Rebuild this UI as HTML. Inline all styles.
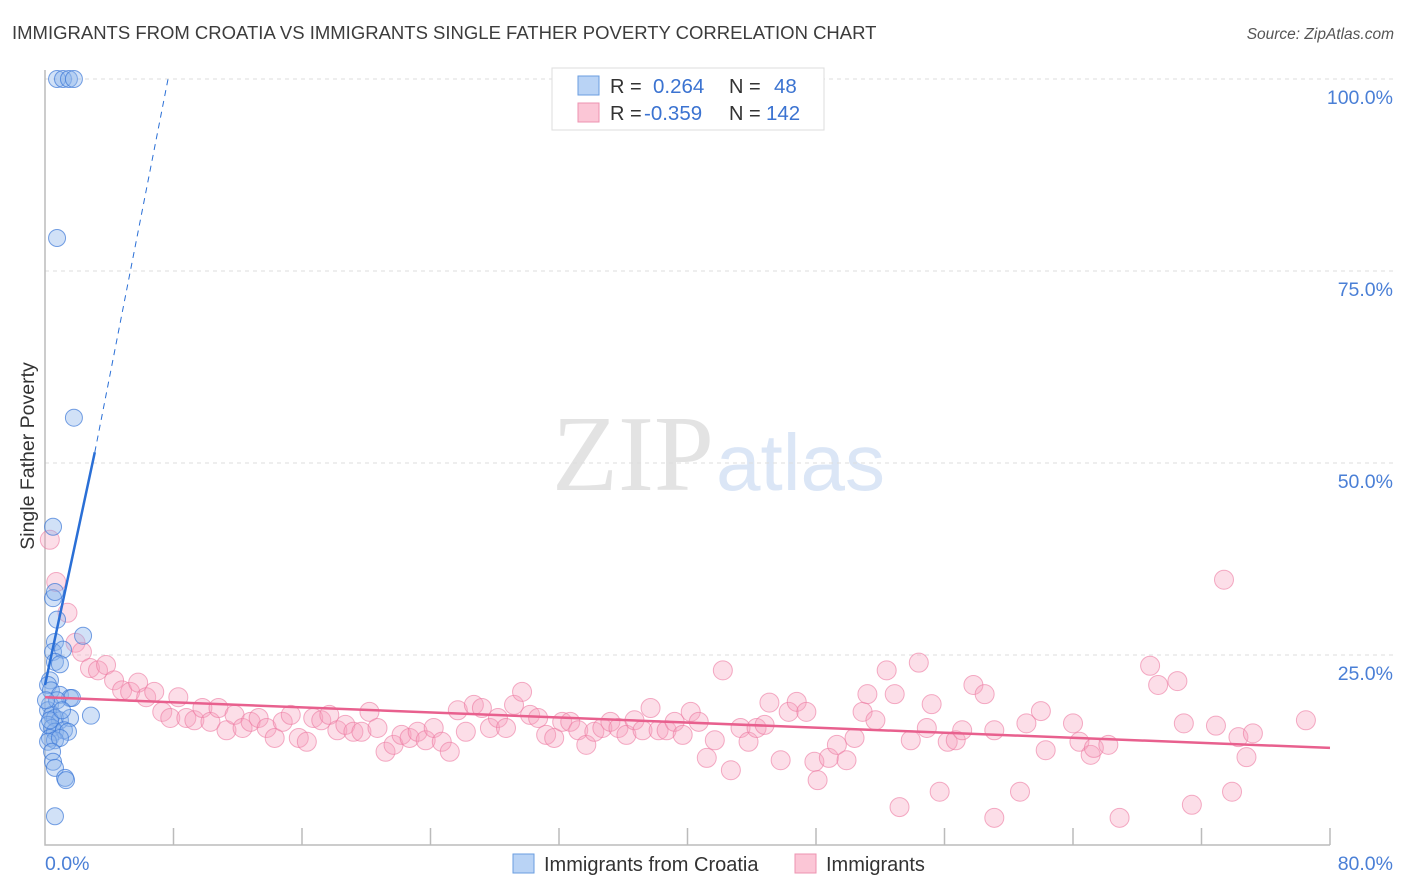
<!DOCTYPE html>
<html><head><meta charset="utf-8"><style>
body{margin:0;background:#fff;font-family:"Liberation Sans",sans-serif;}
svg{display:block}
</style></head><body>
<svg id="chart" width="1406" height="892" viewBox="0 0 1406 892" xmlns="http://www.w3.org/2000/svg">
<text x="12" y="39" font-size="18.5" fill="#3c3c3c" font-family="Liberation Sans, sans-serif">IMMIGRANTS FROM CROATIA VS IMMIGRANTS SINGLE FATHER POVERTY CORRELATION CHART</text>
<text x="1394" y="39" font-size="15.5" fill="#555" font-style="italic" text-anchor="end" font-family="Liberation Sans, sans-serif">Source: ZipAtlas.com</text>
<g>
<text x="552" y="490" font-size="108" fill="#e3e3e3" font-family="Liberation Serif, serif">ZIP</text>
<text x="716" y="490" font-size="80" fill="#dbe6f6" font-family="Liberation Sans, sans-serif">atlas</text>
</g>
<g id="grid"></g>
<g id="axes"></g>
<g id="pink"></g>
<g id="blue"></g>
<g id="lines"></g>
<text transform="translate(34,456) rotate(-90)" font-size="19.5" fill="#333" text-anchor="middle" font-family="Liberation Sans, sans-serif">Single Father Poverty</text>
<g>
<rect x="552" y="68" width="272" height="62" fill="#fff" stroke="#ddd"/>
<rect x="578" y="76" width="21" height="19" fill="#b9d3f5" stroke="#6a9ee0"/>
<rect x="578" y="103" width="21" height="19" fill="#fbc6d6" stroke="#ee93b0"/>
<text x="610" y="93" font-size="20" fill="#333">R =</text>
<text x="653" y="93" font-size="20.5" fill="#3b73d1">0.264</text>
<text x="729" y="93" font-size="20" fill="#333">N =</text>
<text x="774" y="93" font-size="20.5" fill="#3b73d1">48</text>
<text x="610" y="120" font-size="20" fill="#333">R =</text>
<text x="644" y="120" font-size="20.5" fill="#3b73d1">-0.359</text>
<text x="729" y="120" font-size="20" fill="#333">N =</text>
<text x="766" y="120" font-size="20.5" fill="#3b73d1">142</text>
</g>
<g>
<rect x="513" y="854" width="21" height="19" fill="#b9d3f5" stroke="#6a9ee0"/>
<text x="544" y="871" font-size="20" fill="#333">Immigrants from Croatia</text>
<rect x="795" y="854" width="21" height="19" fill="#fbc6d6" stroke="#ee93b0"/>
<text x="826" y="871" font-size="20" fill="#333">Immigrants</text>
</g>
</svg>
<script>
const yTicks=[25,50,75,100];
const yTickLabels=["25.0%","50.0%","75.0%","100.0%"];
const xTickLabels=["0.0%","80.0%"];
const blueX=[0.75,1.12,1.49,1.8,0.75,1.8,0.5,0.5,0.62,0.75,2.37,0.62,0.5,1.12,0.62,0.93,0.31,0.19,0.37,0.93,1.56,1.68,0.31,0.19,0.44,0.62,0.93,1.56,2.86,0.19,0.44,0.62,1.18,1.43,0.31,0.62,0.19,0.93,0.44,0.5,0.62,1.25,1.31,0.62,0.31,0.75,0.06,1.06];
const blueY=[100,100,100,100,79.3,55.9,41.7,32.4,33.2,29.6,27.5,26.7,25.4,25.7,24.1,23.8,21.7,21.1,20.4,19.8,19.4,19.4,18.5,17.8,17.2,16.8,16.5,16.8,17.1,15.9,15.5,15.0,15.2,15.0,14.2,13.9,13.7,14.2,12.4,11.1,10.3,9.0,8.7,4.0,16.5,19.1,19.1,17.8];
const pinkX=[0.3,0.7,1.4,1.9,2.3,2.8,3.3,3.8,4.3,4.8,5.3,5.8,6.3,6.8,7.3,7.8,8.3,8.8,9.3,9.8,10.3,10.8,11.3,11.8,12.3,12.8,13.3,13.8,14.3,14.8,15.3,15.8,16.3,16.7,17.2,17.7,18.2,18.7,19.2,19.7,20.2,20.7,21.2,21.7,22.2,22.7,23.2,23.7,24.2,24.7,25.2,25.7,26.2,26.7,27.2,27.7,28.2,28.7,29.2,29.7,30.2,30.7,31.2,31.7,32.2,32.7,33.2,33.7,34.2,34.7,35.2,35.7,36.2,36.7,37.2,37.7,38.2,38.7,39.2,39.7,40.2,40.7,41.2,41.7,42.2,42.7,43.3,43.8,44.3,44.8,45.1,45.8,46.3,46.8,47.4,47.9,48.1,48.8,49.3,49.9,50.4,50.9,51.2,51.7,52.4,52.9,53.2,53.9,54.4,54.9,55.2,55.7,56.2,56.7,57.1,57.8,58.5,59.1,59.1,60.7,61.1,62.0,62.3,64.0,64.4,65.1,65.3,66.2,66.9,68.8,69.3,70.5,70.9,71.4,72.9,73.4,73.9,74.3,74.8,75.2,78.5];
const pinkY=[40.0,34.5,30.5,26.6,25.4,23.3,23.0,23.7,21.7,20.4,20.2,21.4,19.5,20.2,17.6,16.8,19.5,16.8,16.5,18.1,16.3,18.1,15.2,17.2,15.5,16.3,16.8,15.5,14.2,16.3,17.2,14.2,13.7,16.8,16.5,17.2,15.2,15.9,15.0,15.0,17.6,15.5,12.4,13.3,14.6,14.2,15.0,13.9,15.5,13.7,12.4,17.8,15.0,18.5,18.1,15.5,16.8,15.5,18.5,20.2,17.2,16.8,14.6,14.2,16.3,16.3,15.2,13.3,15.0,15.5,16.3,15.5,14.6,16.5,15.2,18.1,15.2,15.2,16.3,14.6,17.6,16.3,11.6,13.9,23.0,10.0,15.5,13.7,15.5,15.9,18.8,11.3,17.6,18.9,17.6,11.1,8.7,11.6,13.3,11.3,14.2,17.6,19.9,16.5,23.0,19.9,5.2,13.9,24.0,15.5,18.6,7.2,13.7,13.9,15.2,21.1,19.9,3.8,15.2,7.2,16.1,17.7,12.6,16.1,13.7,12.0,12.9,13.3,3.8,23.6,21.1,21.6,16.1,5.5,15.8,34.8,7.2,14.3,11.7,14.8,16.5];
const blueTrend=[[0,21.1],[3.1,51.4],[7.66,100]];
const pinkTrend=[[0,19.5],[80,12.9]];
const NS="http://www.w3.org/2000/svg";
const X0=45,X1=1330,Y0=847,Y100=79;
function sx(v){return X0+(v/80)*(X1-X0);}
function sy(v){return Y0-(v/100)*(Y0-Y100);}
function mk(tag,attrs,parent){const e=document.createElementNS(NS,tag);for(const k in attrs)e.setAttribute(k,attrs[k]);parent.appendChild(e);return e;}
const grid=document.getElementById('grid'),axes=document.getElementById('axes');
yTicks.forEach((t,i)=>{
 const l=mk('line',{x1:X0,x2:1394,y1:sy(t),y2:sy(t),stroke:'#ddd','stroke-dasharray':'4,4'},grid);
 
 
 const tx=mk('text',{x:1393,y:sy(t)+25,'font-size':19.5,fill:'#4a7fd6','text-anchor':'end'},axes);
 tx.textContent=yTickLabels[i];
 
 
});
const ax=mk('path',{d:`M${X0} 70 V845 H${X1}`,stroke:'#bbb',fill:'none','stroke-width':1.5},axes);


for(let i=1;i<=10;i++){
 const t=mk('line',{x1:sx(i*8),x2:sx(i*8),y1:828,y2:845,stroke:'#bbb','stroke-width':1.5},axes);
 
 
}
const xl0=mk('text',{x:45,y:870,'font-size':19.5,fill:'#4a7fd6'},axes);xl0.textContent=xTickLabels[0];


const xl1=mk('text',{x:1393,y:870,'font-size':19.5,fill:'#4a7fd6','text-anchor':'end'},axes);xl1.textContent=xTickLabels[1];


const pg=document.getElementById('pink');
pinkX.forEach((x,i)=>{
 const c=mk('circle',{cx:sx(x),cy:sy(pinkY[i]),r:9.5,fill:'rgba(246,160,190,0.35)',stroke:'rgba(236,120,160,0.6)','stroke-width':1},pg);
 
 
});
const bg=document.getElementById('blue');
blueX.forEach((x,i)=>{
 const c=mk('circle',{cx:sx(x),cy:sy(blueY[i]),r:8.5,fill:'rgba(140,180,235,0.4)',stroke:'rgba(60,120,215,0.7)','stroke-width':1},bg);
 
 
});
const lg=document.getElementById('lines');
const b1=mk('line',{x1:sx(blueTrend[0][0]),y1:sy(blueTrend[0][1]),x2:sx(blueTrend[1][0]),y2:sy(blueTrend[1][1]),stroke:'#2a6fd6','stroke-width':2.5},lg);


const b2=mk('line',{x1:sx(blueTrend[1][0]),y1:sy(blueTrend[1][1]),x2:sx(blueTrend[2][0]),y2:sy(blueTrend[2][1]),stroke:'#2a6fd6','stroke-width':1,'stroke-dasharray':'6,5'},lg);


const p1=mk('line',{x1:sx(pinkTrend[0][0]),y1:sy(pinkTrend[0][1]),x2:sx(pinkTrend[1][0]),y2:sy(pinkTrend[1][1]),stroke:'#e8608e','stroke-width':2.5},lg);


</script>
</body></html>
